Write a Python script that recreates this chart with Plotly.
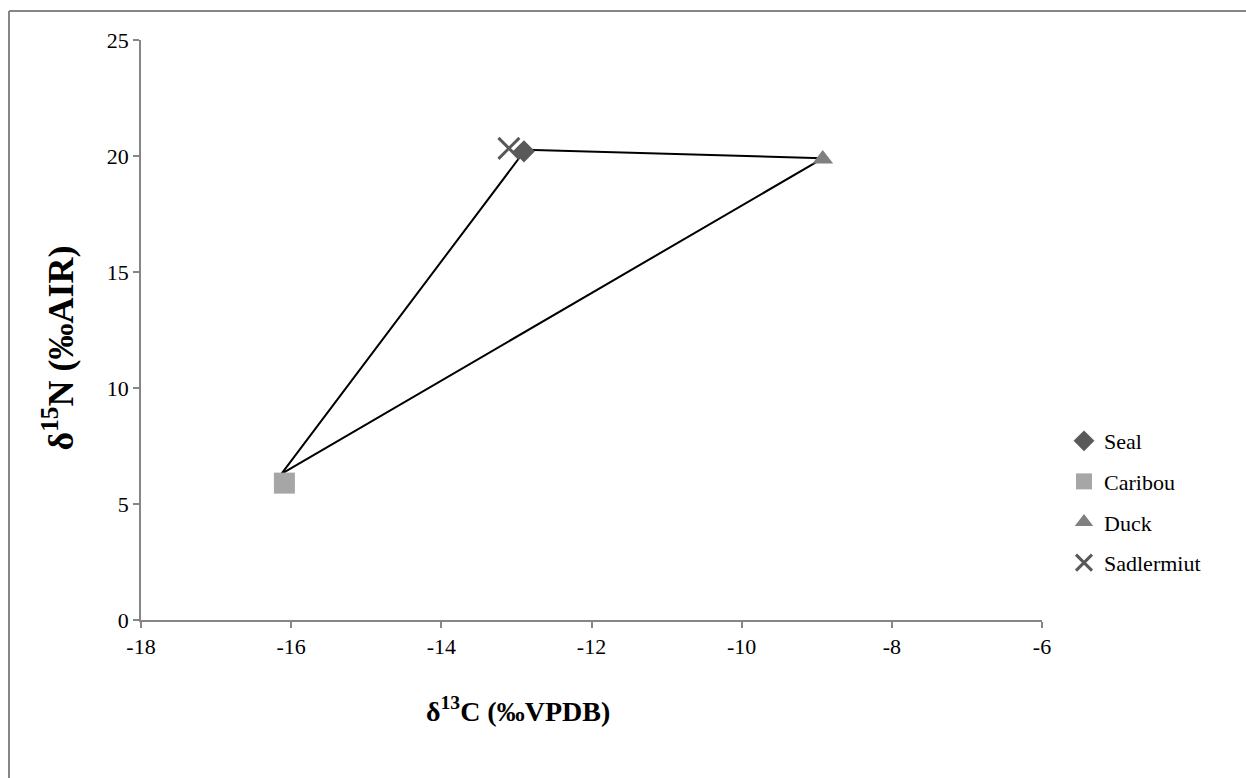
import plotly.graph_objects as go

# Data
series_names = ["Seal", "Caribou", "Duck", "Sadlermiut"]
d13C = [-12.90, -16.09, -8.92, -13.10]
d15N = [20.2, 5.9, 19.87, 20.33]

# Polygon (range outline) vertices
poly_d13C = [-16.13, -12.88, -8.92, -16.13]
poly_d15N = [6.3, 20.27, 19.9, 6.3]

x_ticks = [-18, -16, -14, -12, -10, -8, -6]
x_tick_labels = ["-18", "-16", "-14", "-12", "-10", "-8", "-6"]
y_ticks = [0, 5, 10, 15, 20, 25]
y_tick_labels = ["0", "5", "10", "15", "20", "25"]

symbols = ["diamond", "square", "triangle-up", "x-thin"]
colors = ["#595959", "#a6a6a6", "#808080", "#595959"]
sizes = [17, 21, 18, 21]

FONT = "Liberation Serif, Times New Roman, serif"

fig = go.Figure()

fig.add_trace(go.Scatter(
    x=poly_d13C, y=poly_d15N, mode="lines",
    line=dict(color="black", width=2),
    showlegend=False, hoverinfo="skip"))

for i, name in enumerate(series_names):
    marker = dict(symbol=symbols[i], size=sizes[i], color=colors[i])
    if symbols[i] == "x-thin":
        marker["line"] = dict(color=colors[i], width=3)
    fig.add_trace(go.Scatter(
        x=[d13C[i]], y=[d15N[i]], mode="markers", name=name,
        marker=marker, legendgroup=name))

L, R, T, B = 141, 204, 40, 158
W, H = 1246, 778
pw = W - L - R
ph = H - T - B

def px(xp):
    return (xp - L) / pw

def py(yp):
    return (H - B - yp) / ph

axis_common = dict(
    showgrid=False, zeroline=False, showline=True,
    linecolor="#868686", linewidth=1.5,
    ticks="outside", ticklen=6, tickcolor="#868686", tickwidth=1.5,
    tickfont=dict(family=FONT, size=22, color="black"),
)

NBSP = "\u00a0"

fig.update_layout(
    width=W, height=H,
    margin=dict(l=L, r=R, t=T, b=B),
    paper_bgcolor="white", plot_bgcolor="white",
    xaxis=dict(range=[-18, -6], tickvals=x_ticks, ticktext=x_tick_labels,
               **axis_common),
    yaxis=dict(range=[0, 25], tickvals=y_ticks, ticktext=y_tick_labels,
               title=dict(text="<b>δ<sup>15</sup>N (‰AIR)" + NBSP * 4 + "</b>",
                          standoff=22,
                          font=dict(family=FONT, size=36, color="black")),
               **axis_common),
    legend=dict(
        x=px(1064), y=py(420), xanchor="left", yanchor="top",
        font=dict(family=FONT, size=22, color="black"),
        tracegroupgap=9, bgcolor="rgba(0,0,0,0)",
    ),
    showlegend=True,
    annotations=[
        dict(text="<b>δ<sup>13</sup>C (‰VPDB)</b>", xref="paper", yref="paper",
             x=px(518), y=py(729), showarrow=False,
             font=dict(family=FONT, size=28, color="black")),
    ],
    shapes=[
        dict(type="line", xref="paper", yref="paper",
             x0=px(9), x1=px(9), y0=py(800), y1=py(11),
             line=dict(color="#868686", width=2)),
        dict(type="line", xref="paper", yref="paper",
             x0=px(9), x1=px(1300), y0=py(11), y1=py(11),
             line=dict(color="#868686", width=2)),
    ],
)

fig.write_html("out.html")
